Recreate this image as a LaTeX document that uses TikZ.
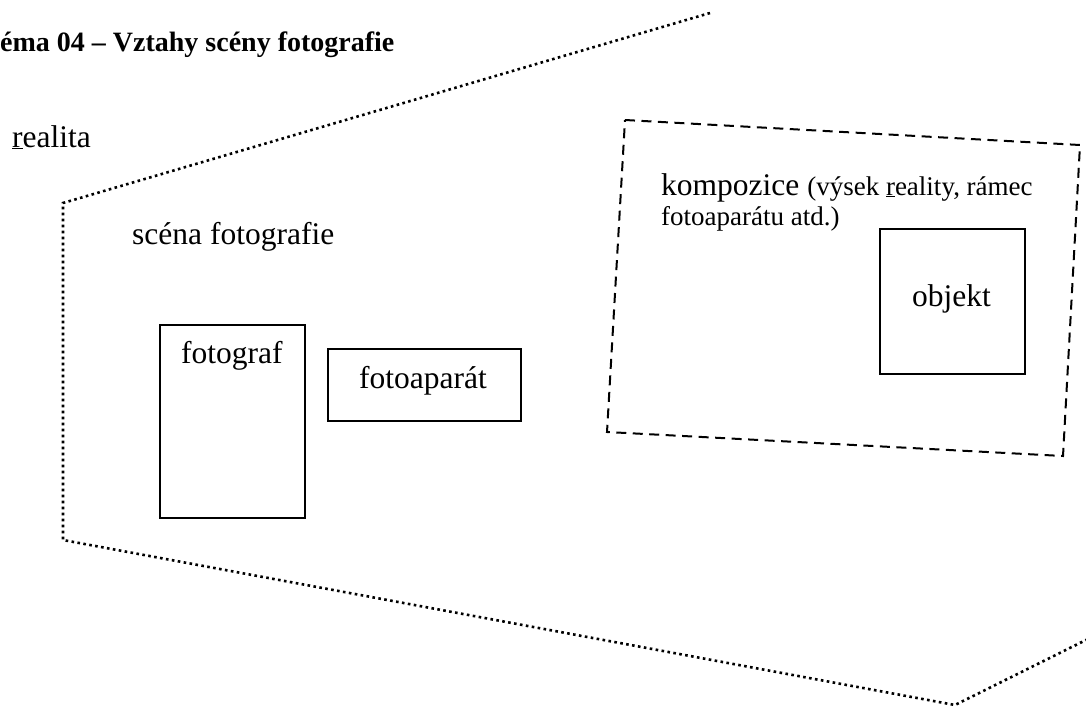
\documentclass[tikz,border=0pt]{standalone}
\usepackage{fontspec}
\setmainfont{Liberation Serif}
\newcommand\mainsize{\fontsize{31.5}{36}\selectfont}
\newcommand\notesize{\fontsize{27}{30}\selectfont}
\newcommand\headsize{\fontsize{28}{32}\selectfont}
\begin{document}
\begin{tikzpicture}[x=1pt,y=-1pt,
  lbl/.style={inner sep=0pt,anchor=base west,font=\mainsize},
  note/.style={inner sep=0pt,anchor=base west,font=\notesize},
  head/.style={inner sep=0pt,anchor=base west,font=\bfseries\headsize},
  boxed/.style={draw,line width=2pt,inner sep=0pt,anchor=north west},
  realm/.style={line width=2.6pt,dash pattern=on 2.6pt off 3.4pt},
  frame/.style={line width=2pt,dash pattern=on 10pt off 6.5pt,line join=miter}]
\useasboundingbox (0,0) rectangle (1086,706);

% heading and outer realm
\node[head] (title) at (-18.7,52) {Téma 04 – Vztahy scény fotografie};
\node[lbl] (realita) at (12,147) {\underline{r}ealita};

% boundary of the photographic scene
\draw[realm] (710,13) -- (63,203) -- (63,540) -- (955,705) -- (1100,633);
\node[lbl] (scena) at (132,244) {scéna fotografie};

% photographer and camera
\node[boxed,minimum width=145pt,minimum height=193pt] (fotograf) at (159,324) {};
\node[lbl] (fotograftxt) at (181,363) {fotograf};
\node[boxed,minimum width=193pt,minimum height=72pt] (aparat) at (327,348) {};
\node[lbl] (aparattxt) at (359,388) {fotoaparát};

% composition frame with the object
\draw[frame] (625,120) -- (1080,145) -- (1063,456) -- (607,432) -- cycle;
\node[lbl] (komp) at (661,195) {kompozice {\notesize(výsek \underline{r}eality, rámec}};
\node[note] (komp2) at (661,225) {fotoaparátu atd.)};
\node[boxed,minimum width=145pt,minimum height=145pt] (objekt) at (879,228) {};
\node[lbl] (objekttxt) at (912,306) {objekt};
\end{tikzpicture}
\end{document}
